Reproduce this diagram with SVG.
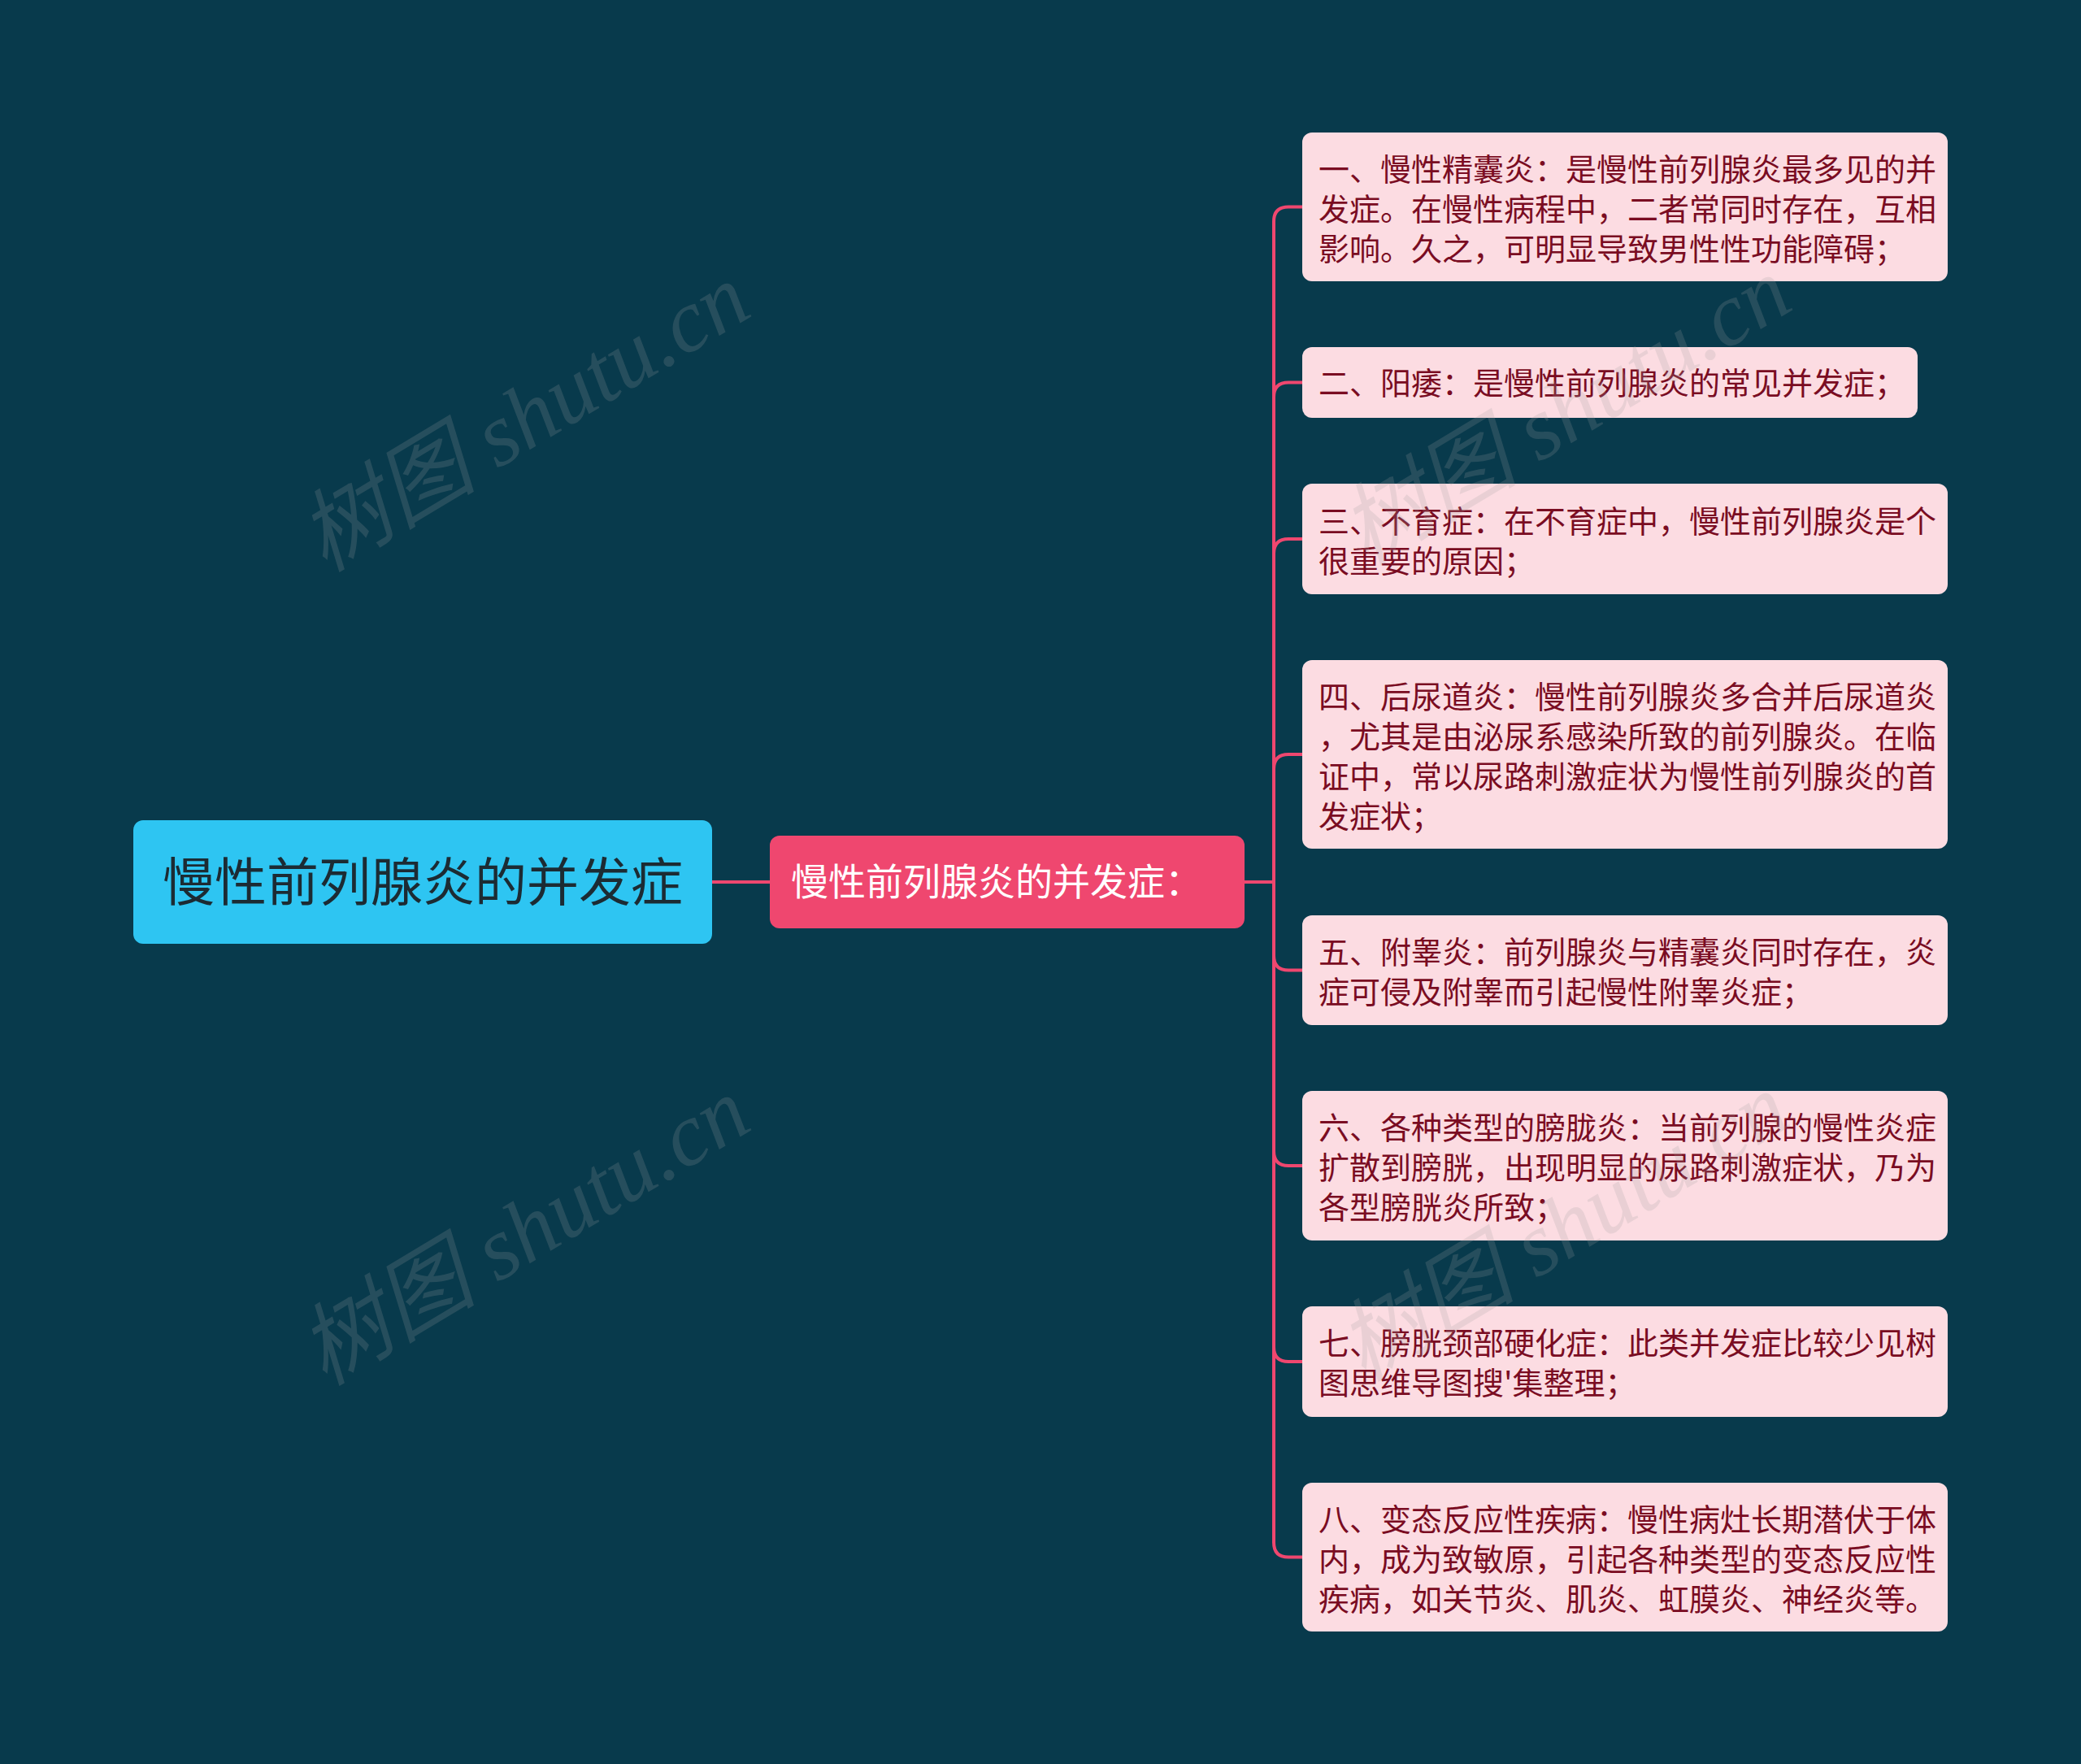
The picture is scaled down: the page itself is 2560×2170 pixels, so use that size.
<svg xmlns="http://www.w3.org/2000/svg" width="2560" height="2170" viewBox="0 0 2560 2170">
<style>
.bg{fill:#083A4C}
.conn{fill:none;stroke:#EF476F;stroke-width:4}
.root{fill:#2EC5F2}
.mid{fill:#EF476F}
.leaf{fill:#FCDCE2}
.t{font-family:"Noto Sans CJK SC","Noto Sans",sans-serif;dominant-baseline:central}
.rt{font-size:64px;fill:#1C2B33}
.mt{font-size:46px;fill:#FFFFFF}
.lt{font-size:38px;fill:#7A0C22}
.wm{font-family:"Liberation Serif","Noto Sans CJK SC",serif;font-size:110px;fill:#A0A0A0;opacity:0.2;font-style:italic}
</style>
<rect class="bg" x="0" y="0" width="2560" height="2170"/>
<g id="connectors">
<path class="conn" d="M876 1085 H947"/>
<path class="conn" d="M1531 1085 H1567 V272.5 Q1567 254.5 1585 254.5 H1602"/>
<path class="conn" d="M1531 1085 H1567 V488.5 Q1567 470.5 1585 470.5 H1602"/>
<path class="conn" d="M1531 1085 H1567 V681 Q1567 663 1585 663 H1602"/>
<path class="conn" d="M1531 1085 H1567 V946 Q1567 928 1585 928 H1602"/>
<path class="conn" d="M1531 1085 H1567 V1175.5 Q1567 1193.5 1585 1193.5 H1602"/>
<path class="conn" d="M1531 1085 H1567 V1416 Q1567 1434 1585 1434 H1602"/>
<path class="conn" d="M1531 1085 H1567 V1657 Q1567 1675 1585 1675 H1602"/>
<path class="conn" d="M1531 1085 H1567 V1897.5 Q1567 1915.5 1585 1915.5 H1602"/>
</g>
<g id="root">
<rect class="root" x="164" y="1009" width="712" height="152" rx="12"/>
<text class="t rt" x="520" y="1080" text-anchor="middle">慢性前列腺炎的并发症</text>
</g>
<g id="mid">
<rect class="mid" x="947" y="1028" width="584" height="114" rx="12"/>
<text class="t mt" x="973" y="1081">慢性前列腺炎的并发症：</text>
</g>
<g id="n1">
<rect class="leaf" x="1602" y="163" width="794" height="183" rx="12"/>
<text class="t lt"><tspan x="1622" y="205">一、慢性精囊炎：是慢性前列腺炎最多见的并</tspan><tspan x="1622" y="254">发症。在慢性病程中，二者常同时存在，互相</tspan><tspan x="1622" y="303">影响。久之，可明显导致男性性功能障碍；</tspan></text>
</g>
<g id="n2">
<rect class="leaf" x="1602" y="427" width="757" height="87" rx="12"/>
<text class="t lt" x="1622" y="468">二、阳痿：是慢性前列腺炎的常见并发症；</text>
</g>
<g id="n3">
<rect class="leaf" x="1602" y="595" width="794" height="136" rx="12"/>
<text class="t lt"><tspan x="1622" y="638">三、不育症：在不育症中，慢性前列腺炎是个</tspan><tspan x="1622" y="687">很重要的原因；</tspan></text>
</g>
<g id="n4">
<rect class="leaf" x="1602" y="812" width="794" height="232" rx="12"/>
<text class="t lt"><tspan x="1622" y="854">四、后尿道炎：慢性前列腺炎多合并后尿道炎</tspan><tspan x="1622" y="903">，尤其是由泌尿系感染所致的前列腺炎。在临</tspan><tspan x="1622" y="952">证中，常以尿路刺激症状为慢性前列腺炎的首</tspan><tspan x="1622" y="1001">发症状；</tspan></text>
</g>
<g id="n5">
<rect class="leaf" x="1602" y="1126" width="794" height="135" rx="12"/>
<text class="t lt"><tspan x="1622" y="1168">五、附睾炎：前列腺炎与精囊炎同时存在，炎</tspan><tspan x="1622" y="1217">症可侵及附睾而引起慢性附睾炎症；</tspan></text>
</g>
<g id="n6">
<rect class="leaf" x="1602" y="1342" width="794" height="184" rx="12"/>
<text class="t lt"><tspan x="1622" y="1384">六、各种类型的膀胧炎：当前列腺的慢性炎症</tspan><tspan x="1622" y="1433">扩散到膀胱，出现明显的尿路刺激症状，乃为</tspan><tspan x="1622" y="1482">各型膀胱炎所致；</tspan></text>
</g>
<g id="n7">
<rect class="leaf" x="1602" y="1607" width="794" height="136" rx="12"/>
<text class="t lt"><tspan x="1622" y="1649">七、膀胱颈部硬化症：此类并发症比较少见树</tspan><tspan x="1622" y="1698">图思维导图搜'集整理；</tspan></text>
</g>
<g id="n8">
<rect class="leaf" x="1602" y="1824" width="794" height="183" rx="12"/>
<text class="t lt"><tspan x="1622" y="1866">八、变态反应性疾病：慢性病灶长期潜伏于体</tspan><tspan x="1622" y="1915">内，成为致敏原，引起各种类型的变态反应性</tspan><tspan x="1622" y="1964">疾病，如关节炎、肌炎、虹膜炎、神经炎等。</tspan></text>
</g>
<g id="watermarks">
<text class="wm" x="645" y="514" text-anchor="middle" dominant-baseline="central" transform="rotate(-31 645 514)">树图 shutu.cn</text>
<text class="wm" x="645" y="1515" text-anchor="middle" dominant-baseline="central" transform="rotate(-31 645 1515)">树图 shutu.cn</text>
<text class="wm" x="1926" y="506" text-anchor="middle" dominant-baseline="central" transform="rotate(-31 1926 506)">树图 shutu.cn</text>
<text class="wm" x="1923" y="1510" text-anchor="middle" dominant-baseline="central" transform="rotate(-31 1923 1510)">树图 shutu.cn</text>
</g>
</svg>
